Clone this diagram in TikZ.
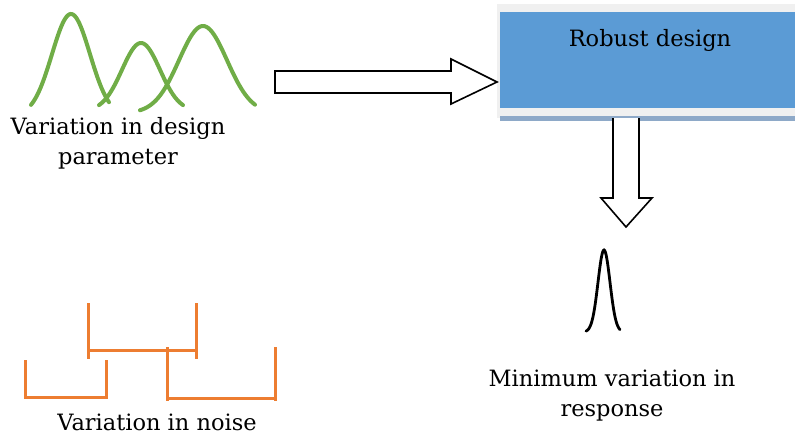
\documentclass[tikz,border=0pt]{standalone}
\usepackage{fontspec}
\setmainfont{DejaVu Serif}
\usetikzlibrary{calc}
\definecolor{curvegreen}{RGB}{112,173,71}
\definecolor{noiseorange}{RGB}{237,125,49}
\definecolor{boxblue}{RGB}{91,155,213}
\definecolor{panelgray}{RGB}{240,240,240}
\definecolor{shadowblue}{RGB}{142,169,200}
\tikzset{
  bell/.style={curvegreen, line width=4pt, line cap=round},
  noise/.style={noiseorange, line width=3pt},
  blockarrow/.style={draw=black, fill=white, line width=1.6pt, line join=miter},
  caption/.style={align=center, font=\fontsize{22.5}{30}\selectfont}
}
\begin{document}
\begin{tikzpicture}[x=1pt, y=-1pt]
\useasboundingbox (0,0) rectangle (795,436);
% design parameter curves
\draw[bell] plot[domain=-40:38, samples=60, smooth] ({71+\x},{116-102*exp(-(\x*\x)/(2*19*19))});
\draw[bell] plot[domain=-42:42, samples=60, smooth] ({141+\x},{111-68*exp(-(\x*\x)/(2*19*19))});
\draw[bell] plot[domain=-63:52, samples=60, smooth] ({203+\x},{113-87*exp(-(\x*\x)/(2*24*24))});
\draw (118,143) node(parameter) [caption] {Variation in design\\parameter};

% robust design box
\fill[panelgray] (497,4) rectangle (800,118);
\fill[shadowblue] (500,116) rectangle (800,121);
\draw (650,60) node(robust) [rectangle, fill=boxblue, minimum width=300pt, minimum height=96pt, inner sep=0pt] {};
\draw (robust.north) node(robusttext) [caption, below=14pt] {Robust design};

% block arrows
\coordinate (in) at (275,82);
\coordinate (out) at (497,82);
\draw[blockarrow] ($(in)+(0,-11)$) -- ($(out)+(-46,-11)$) -- ($(out)+(-46,-23)$) -- (out)
  -- ($(out)+(-46,22)$) -- ($(out)+(-46,11)$) -- ($(in)+(0,11)$) -- cycle;
\coordinate (top) at (626,118);
\coordinate (tip) at (626,227);
\draw[blockarrow] ($(top)+(-13,0)$) -- ($(tip)+(-13,-29)$) -- ($(tip)+(-25,-29)$) -- (tip)
  -- ($(tip)+(26,-29)$) -- ($(tip)+(13,-29)$) -- ($(top)+(13,0)$);

% response curve
\draw[black, line width=2.8pt, line cap=round] plot[domain=-18:16, samples=50, smooth] ({604+\x},{332-82*exp(-(\x*\x)/(2*6*6))});
\draw (612,396) node(response) [caption] {Minimum variation in\\response};

% noise brackets
\draw[noise] (88,303) -- (88,359) (88,350) -- (196,350) (196,303) -- (196,359);
\draw[noise] (25,360) -- (25,399) (25,397) -- (106,397) (106,360) -- (106,399);
\draw[noise] (167,347) -- (167,401) (167,398) -- (275,398) (275,347) -- (275,401);
\draw (157,422) node(noisetext) [caption] {Variation in noise};
\end{tikzpicture}
\end{document}
